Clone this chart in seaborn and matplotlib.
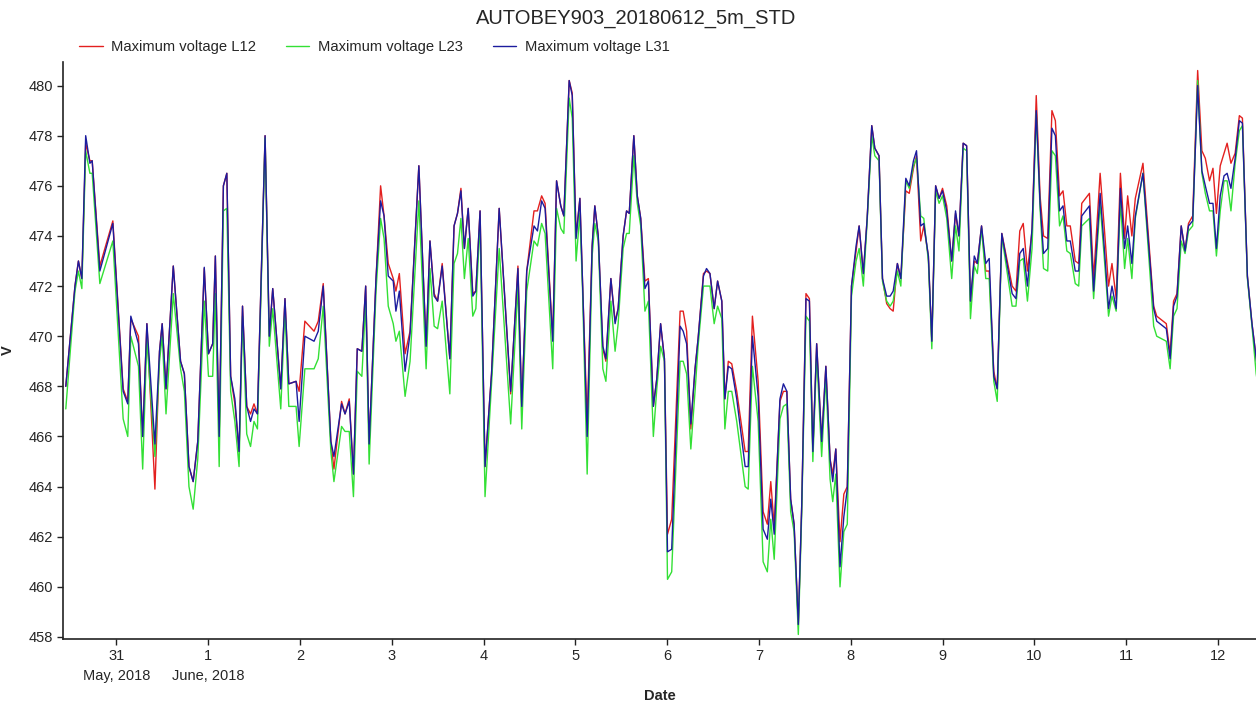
import pandas as pd
import matplotlib
matplotlib.use("Agg")
import matplotlib.pyplot as plt
import matplotlib.dates as mdates
from matplotlib.ticker import FuncFormatter, MultipleLocator
import seaborn as sns

# hours since 2018-05-30 00:00 (vertices)
hours = [
    10.8, 13.2, 14.1, 15.0, 16.0, 17.1, 17.7, 19.7, 23.1, 25.8, 27.0, 27.8, 29.8, 30.9, 32.0,
    34.1, 35.3, 36.0, 37.0, 38.9, 40.8, 41.8, 43.0, 44.1, 45.3, 47.0, 48.1, 49.2, 49.9, 50.9,
    52.0, 52.9, 53.9, 55.0, 56.1, 57.0, 58.1, 59.1, 60.0, 60.9, 62.9, 64.0, 64.9, 67.0, 68.1,
    69.1, 71.0, 71.8, 73.3,
    75.7, 76.8, 78.1, 80.1, 80.9, 82.9, 83.8, 84.9, 86.0, 87.0, 88.2, 89.2, 90.1, 91.9, 93.1,
    94.0, 95.1, 96.4, 97.1, 98.0, 99.5, 100.8, 103.1, 105.0, 106.0, 107.1, 108.0, 109.2, 111.2,
    112.3, 113.2, 114.1, 115.0, 116.0, 117.2, 118.0, 119.1, 120.4, 122.1, 124.1, 127.1, 129.0,
    130.0, 131.3, 133.2, 134.1, 135.2, 136.1,
    138.1, 139.1, 140.2, 141.0, 142.4, 143.2, 144.2, 145.2, 145.9, 147.1, 148.4, 149.1, 150.0,
    151.2, 152.0, 153.3, 154.4, 155.2, 156.5, 157.4, 158.1, 159.3, 160.2, 161.1, 162.2, 163.1,
    164.4, 165.3, 166.3, 167.3, 168.1, 169.2, 171.4, 172.2, 173.1, 174.2, 175.3, 176.1, 177.5,
    178.3, 179.2, 180.3, 181.2, 182.3, 183.1, 184.0, 184.9, 186.2, 188.4, 189.2, 190.3, 191.8,
    193.1, 194.2, 195.1, 196.0, 197.5, 198.4,
    199.3, 200.3, 201.2, 202.3, 203.2, 204.3, 205.2, 206.1, 207.1, 208.4, 209.5, 210.6, 211.3,
    212.1, 213.2, 214.2, 215.1, 216.2, 217.4, 218.2, 219.3, 220.3, 221.5, 222.3, 223.4, 224.3,
    225.4, 226.3, 227.1, 228.2, 229.1, 230.4, 231.3, 232.4, 233.2, 234.3, 235.1, 236.3, 237.2,
    238.2, 239.1, 240.0, 241.1, 242.4, 243.4, 244.3, 245.4, 246.3, 247.3, 248.3, 249.1, 250.2,
    251.3, 252.2, 253.4, 254.3, 255.5, 258.2, 259.2, 260.2, 261.1, 262.2,
    263.4, 264.5, 265.5, 266.4, 267.5, 268.6, 269.5, 270.6, 271.5, 272.5, 273.4, 274.7, 275.6,
    276.4, 278.4, 279.5, 281.2, 282.4, 283.4, 284.3, 285.4, 286.5, 287.6, 288.4, 289.5, 290.4,
    292.4, 295.2, 296.0, 298.5, 299.5, 300.4, 301.3, 302.4, 303.4, 304.3, 305.4, 306.7, 307.8,
    308.7, 309.8, 310.7, 311.6, 312.6, 313.6, 314.4, 315.4, 316.5, 317.6, 318.4, 319.7, 320.9,
    322.0, 323.0,
]

l12 = [
    468.0, 472.0, 473.0, 472.3, 477.7, 477.0, 477.0, 472.8, 474.6, 467.9, 467.4, 470.7, 470.0, 466.0, 470.5,
    463.9, 469.4, 470.5, 467.9, 472.8, 469.0, 468.5, 464.8, 464.2, 465.8, 472.7, 469.3, 469.7, 473.2, 466.0,
    476.0, 476.5, 468.4, 467.3, 465.4, 471.2, 467.2, 466.9, 467.3, 466.9, 478.0, 470.0, 471.9, 467.9, 471.5,
    468.1, 468.2, 467.8, 470.6,
    470.2, 470.6, 472.1, 465.8, 464.7, 467.4, 466.9, 467.5, 464.5, 469.5, 469.4, 472.0, 465.7, 472.3, 476.0,
    474.8, 472.9, 472.3, 471.8, 472.5, 469.3, 470.2, 476.8, 469.6, 473.8, 471.7, 471.4, 472.9, 469.1,
    474.4, 474.9, 475.9, 473.5, 475.1, 471.7, 471.8, 475.0, 464.8, 468.5, 475.1, 467.7, 472.8,
    467.2, 472.6, 475.0, 475.0, 475.6, 475.3,
    469.9, 476.2, 475.2, 474.8, 480.2, 479.7, 474.0, 475.5, 472.1, 466.6, 473.6, 475.2, 474.0,
    469.5, 469.0, 472.3, 470.6, 471.1, 474.0, 475.0, 474.9, 478.0, 475.6, 474.7, 472.2, 472.3,
    467.2, 468.3, 470.5, 469.1, 462.1, 462.7, 471.0, 471.0, 470.2, 466.3, 468.7, 469.9, 472.5,
    472.6, 472.5, 471.1, 472.2, 471.4, 467.5, 469.0, 468.9, 467.8, 465.4, 465.4, 470.8, 468.2,
    463.0, 462.5, 464.2, 462.4, 467.4, 467.8,
    467.8, 463.5, 462.5, 458.5, 463.3, 471.7, 471.5, 465.4, 469.7, 465.8, 468.8, 465.1, 464.5,
    465.5, 461.8, 463.7, 464.0, 472.0, 473.4, 474.4, 472.5, 474.7, 478.4, 477.5, 477.2, 472.3,
    471.3, 471.1, 471.0, 472.9, 472.3, 475.8, 475.7, 476.7, 477.2, 473.8, 474.4, 473.2, 469.8,
    476.0, 475.5, 475.9, 475.2, 473.0, 474.9, 474.0, 477.7, 477.6, 471.4, 473.0, 472.9, 474.4,
    472.6, 472.6, 468.6, 467.9, 474.1, 472.0, 471.8, 474.2, 474.5, 472.6,
    474.2, 479.6, 475.6, 474.0, 473.9, 479.0, 478.6, 475.6, 475.8, 474.4, 474.4, 473.0, 472.9,
    475.3, 475.7, 472.3, 476.5, 474.1, 472.0, 472.9, 471.5, 476.5, 473.9, 475.6, 474.0, 475.5,
    476.9, 471.2, 470.8, 470.5, 469.3, 471.4, 471.7, 474.4, 473.4, 474.5, 474.8, 480.6, 477.4,
    477.1, 476.2, 476.7, 474.9, 476.8, 477.3, 477.7, 476.9, 477.3, 478.8, 478.7, 472.4, 470.5,
    469.1, 468.0,
]

l23 = [
    467.1, 471.8, 472.6, 471.9, 477.4, 476.5, 476.5, 472.1, 473.8, 466.7, 466.0, 470.0, 468.8, 464.7, 469.9,
    465.2, 469.0, 470.0, 466.9, 471.7, 468.7, 467.8, 464.0, 463.1, 465.1, 471.4, 468.4, 468.4, 471.7, 464.8,
    475.0, 475.1, 467.8, 466.6, 464.8, 470.8, 466.1, 465.6, 466.6, 466.3, 477.9, 469.6, 471.1, 467.1, 471.1,
    467.2, 467.2, 465.6, 468.7,
    468.7, 469.1, 471.2, 465.4, 464.2, 466.4, 466.2, 466.2, 463.6, 468.6, 468.4, 471.4, 464.9, 471.8, 474.7,
    473.9, 471.2, 470.5, 469.8, 470.2, 467.6, 469.0, 475.4, 468.7, 472.7, 470.4, 470.3, 471.4, 467.7,
    472.9, 473.3, 474.7, 472.3, 473.9, 470.8, 471.1, 474.6, 463.6, 468.1, 473.5, 466.5, 472.0,
    466.3, 471.8, 473.8, 473.6, 474.5, 474.1,
    468.7, 475.1, 474.3, 474.1, 479.5, 478.7, 473.0, 474.9, 471.8, 464.5, 473.2, 474.5, 473.8,
    468.7, 468.2, 471.4, 469.4, 470.5, 473.5, 474.1, 474.1, 477.2, 475.3, 474.4, 471.0, 471.4,
    466.0, 467.9, 469.6, 469.0, 460.3, 460.6, 469.0, 469.0, 468.5, 465.5, 467.8, 469.6, 472.0,
    472.0, 472.0, 470.5, 471.2, 470.7, 466.3, 467.8, 467.8, 466.6, 464.0, 463.9, 468.8, 466.6,
    461.0, 460.6, 462.7, 461.1, 466.7, 467.2,
    467.3, 463.0, 462.2, 458.1, 463.0, 470.8, 470.6, 465.0, 469.3, 465.2, 468.4, 464.3, 463.4,
    464.5, 460.0, 462.2, 462.5, 471.6, 473.0, 473.5, 472.0, 474.6, 478.0, 477.2, 477.0, 472.2,
    471.4, 471.2, 471.4, 472.6, 472.0, 476.2, 475.9, 476.8, 477.1, 474.8, 474.7, 473.0, 469.5,
    475.8, 475.3, 475.6, 474.7, 472.3, 474.4, 473.4, 477.5, 477.4, 470.7, 472.8, 472.5, 474.3,
    472.3, 472.3, 468.2, 467.4, 474.0, 471.2, 471.2, 473.0, 473.1, 471.4,
    473.5, 478.9, 475.1, 472.7, 472.6, 477.4, 477.2, 474.4, 474.8, 473.4, 473.3, 472.1, 472.0,
    474.4, 474.7, 471.5, 475.3, 472.9, 470.8, 471.6, 471.0, 475.4, 472.7, 473.9, 472.3, 474.7,
    476.5, 470.4, 470.0, 469.8, 468.7, 470.8, 471.1, 473.8, 473.3, 474.2, 474.4, 480.2, 476.5,
    475.7, 475.0, 475.0, 473.2, 475.0, 476.2, 476.2, 475.0, 476.9, 478.2, 478.4, 472.3, 470.4,
    468.5, 467.5,
]

l31 = [
    468.0, 472.0, 473.0, 472.3, 478.0, 476.9, 477.0, 472.6, 474.5, 467.8, 467.3, 470.8, 469.7, 466.0, 470.5,
    465.7, 469.4, 470.5, 467.9, 472.8, 469.0, 468.5, 464.8, 464.2, 465.8, 472.75, 469.3, 469.7, 473.2, 466.0,
    476.0, 476.5, 468.4, 467.5, 465.4, 471.2, 467.2, 466.6, 467.1, 466.9, 478.0, 470.0, 471.9, 467.9, 471.5,
    468.1, 468.2, 466.6, 470.0,
    469.8, 470.2, 472.0, 465.8, 465.2, 467.3, 466.9, 467.4, 464.5, 469.5, 469.4, 472.0, 465.7, 472.3, 475.4,
    474.8, 472.4, 472.2, 471.0, 471.8, 468.6, 470.1, 476.8, 469.6, 473.8, 471.6, 471.4, 472.8, 469.1,
    474.4, 474.9, 475.8, 473.5, 475.1, 471.6, 471.8, 475.0, 464.8, 468.5, 475.1, 467.8, 472.7,
    467.2, 472.6, 474.4, 474.2, 475.4, 475.1,
    469.8, 476.2, 475.2, 474.8, 480.2, 479.6, 473.9, 475.5, 472.1, 466.0, 473.6, 475.2, 474.0,
    469.6, 469.1, 472.3, 470.5, 471.1, 474.0, 475.0, 474.9, 478.0, 475.6, 474.7, 471.9, 472.2,
    467.2, 468.3, 470.5, 469.1, 461.4, 461.5, 470.4, 470.2, 469.7, 466.5, 468.7, 469.9, 472.4,
    472.7, 472.5, 471.1, 472.2, 471.4, 467.5, 468.8, 468.7, 467.5, 464.8, 464.8, 470.0, 467.6,
    462.3, 461.9, 463.5, 462.1, 467.5, 468.1,
    467.8, 463.5, 462.5, 458.5, 463.3, 471.5, 471.4, 465.4, 469.7, 465.8, 468.8, 465.1, 464.2,
    465.5, 460.8, 462.8, 463.9, 472.0, 473.6, 474.4, 472.5, 474.7, 478.4, 477.5, 477.2, 472.3,
    471.6, 471.6, 471.8, 472.9, 472.3, 476.3, 476.0, 477.0, 477.4, 474.4, 474.5, 473.2, 469.8,
    476.0, 475.5, 475.8, 475.0, 473.0, 475.0, 474.0, 477.7, 477.6, 471.4, 473.2, 472.9, 474.4,
    472.9, 473.1, 468.4, 467.9, 474.1, 471.7, 471.5, 473.3, 473.5, 472.0,
    474.3, 479.0, 475.3, 473.3, 473.5, 478.3, 478.0, 475.0, 475.2, 473.8, 473.8, 472.6, 472.6,
    474.8, 475.2, 471.8, 475.7, 473.3, 471.1, 472.0, 471.1, 475.9, 473.5, 474.4, 472.9, 474.8,
    476.5, 471.1, 470.6, 470.3, 469.1, 471.2, 471.6, 474.4, 473.4, 474.4, 474.6, 480.0, 476.6,
    476.0, 475.3, 475.3, 473.5, 475.6, 476.4, 476.5, 475.9, 477.1, 478.6, 478.5, 472.4, 470.5,
    469.1, 468.0,
]

series_names = ["Maximum voltage L12", "Maximum voltage L23", "Maximum voltage L31"]
colors = ["#e3201f", "#33e035", "#1c1c9e"]

start = pd.Timestamp("2018-05-30")
times = start + pd.to_timedelta(hours, unit="h")
df = pd.concat([
    pd.DataFrame({"Date": times, "V": vals, "series": name})
    for name, vals in zip(series_names, [l12, l23, l31])
])

sns.set_style("ticks")
plt.rcParams["font.family"] = ["Liberation Sans", "DejaVu Sans"]

fig = plt.figure(figsize=(12.56, 7.04), dpi=100)
ax = fig.add_axes([63 / 1256, 1 - 639 / 704, 1 - 63 / 1256, (639 - 62) / 704])

sns.lineplot(data=df, x="Date", y="V", hue="series", hue_order=series_names,
             palette=colors, estimator=None, linewidth=1.0, ax=ax)

handles, labels = ax.get_legend_handles_labels()
ax.get_legend().remove()
fig.legend(handles, labels, loc="center left", bbox_to_anchor=(79 / 1256, 1 - 47 / 704),
           ncol=3, frameon=False, fontsize=10.6, handlelength=1.6, handletextpad=0.6,
           columnspacing=2.0, borderpad=0, borderaxespad=0)

ax.set_xlim(start + pd.Timedelta(hours=10.07), start + pd.Timedelta(hours=321.95))
ax.set_ylim(457.92, 480.94)
ax.yaxis.set_major_locator(MultipleLocator(2))


def day_label(x, pos):
    d = mdates.num2date(x)
    if d.month == 5 and d.day == 31:
        return "31\nMay, 2018"
    if d.month == 6 and d.day == 1:
        return "1\nJune, 2018"
    return str(d.day)


ax.xaxis.set_major_locator(mdates.DayLocator())
ax.xaxis.set_major_formatter(FuncFormatter(day_label))
ax.tick_params(axis="both", labelsize=10.5, length=4, width=1, color="#222222", pad=3)
fig.canvas.draw()
for lbl in ax.get_xticklabels():
    lbl.set_linespacing(1.55)

sns.despine(ax=ax)
for s in ["left", "bottom"]:
    ax.spines[s].set_linewidth(1.2)
    ax.spines[s].set_color("#222222")

ax.set_xlabel("Date", fontsize=10.5, fontweight="bold")
ax.set_ylabel("V", fontsize=10.5, fontweight="bold", rotation=90)
ax.xaxis.set_label_coords(0.5, -0.087)
ax.yaxis.set_label_coords(-0.040, 0.5)

fig.suptitle("AUTOBEY903_20180612_5m_STD", x=636 / 1256, y=1 - 19 / 704, va="center",
             fontsize=14.5)

fig.savefig("out.png", dpi=100)
